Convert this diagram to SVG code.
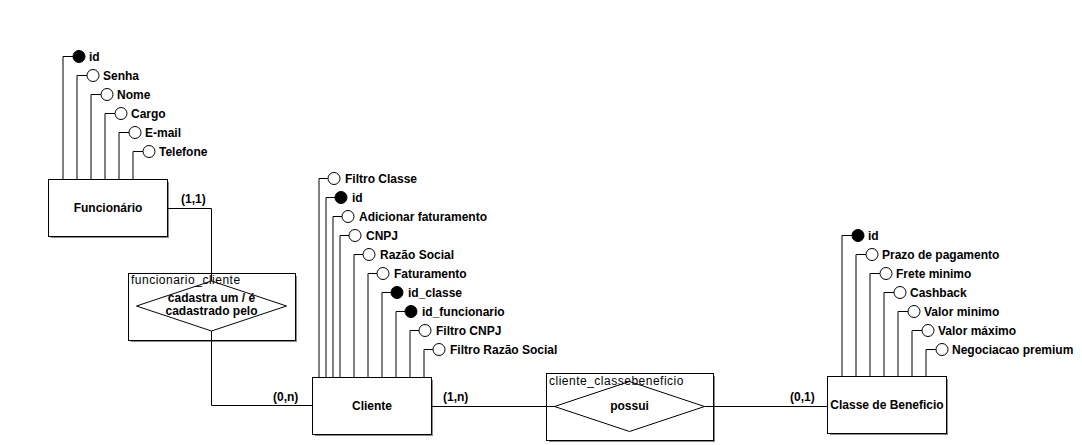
<svg xmlns="http://www.w3.org/2000/svg" width="1082" height="445" viewBox="0 0 1082 445">
<style>
.ent{fill:#fff;stroke:#000;stroke-width:1}
.sh{fill:#8c8c8c}
.ln{fill:none;stroke:#000;stroke-width:1}
.ao{fill:#fff;stroke:#000;stroke-width:1}
.af{fill:#000;stroke:#000;stroke-width:1}
.t{font-family:"Liberation Sans",Arial,sans-serif;font-size:12px;font-weight:bold;fill:#000}
.tc{font-family:"Liberation Sans",Arial,sans-serif;font-size:12px;font-weight:bold;fill:#000;text-anchor:middle}
.tr{font-family:"Liberation Sans",Arial,sans-serif;font-size:12px;letter-spacing:0.5px;fill:#000}
</style>
<rect width="1082" height="445" fill="#fff"/>

<g id="funcionario">
<path class="ln" d="M63,179V56.5H73 M77,179V75.5H87 M91,179V94.5H101 M105,179V113.5H115 M119,179V132.5H129 M133,179V151.5H143"/>
<circle class="af" cx="79" cy="56.5" r="6"/>
<circle class="ao" cx="93" cy="75.5" r="6"/>
<circle class="ao" cx="107" cy="94.5" r="6"/>
<circle class="ao" cx="121" cy="113.5" r="6"/>
<circle class="ao" cx="135" cy="132.5" r="6"/>
<circle class="ao" cx="149" cy="151.5" r="6"/>
<text class="t" x="89" y="60.5">id</text>
<text class="t" x="103" y="79.5">Senha</text>
<text class="t" x="117" y="98.5">Nome</text>
<text class="t" x="131" y="117.5">Cargo</text>
<text class="t" x="145" y="136.5">E-mail</text>
<text class="t" x="159" y="155.5">Telefone</text>
<rect class="sh" x="51" y="182" width="118" height="56"/>
<rect class="ent" x="48.5" y="179.5" width="119" height="57"/>
<text class="tc" x="108" y="212">Funcionário</text>
</g>

<g id="cliente">
<path class="ln" d="M319,377V178.5H328 M326,377V197.5H335 M333,377V216.5H342 M340,377V235.5H349 M354,377V254.5H363 M368,377V273.5H377 M382,377V292.5H391 M396,377V311.5H405 M410,377V330.5H419 M424,377V349.5H433"/>
<circle class="ao" cx="334" cy="178.5" r="6"/>
<circle class="af" cx="341" cy="197.5" r="6"/>
<circle class="ao" cx="348" cy="216.5" r="6"/>
<circle class="ao" cx="355" cy="235.5" r="6"/>
<circle class="ao" cx="369" cy="254.5" r="6"/>
<circle class="ao" cx="383" cy="273.5" r="6"/>
<circle class="af" cx="397" cy="292.5" r="6"/>
<circle class="af" cx="411" cy="311.5" r="6"/>
<circle class="ao" cx="425" cy="330.5" r="6"/>
<circle class="ao" cx="439" cy="349.5" r="6"/>
<text class="t" x="345" y="182.5">Filtro Classe</text>
<text class="t" x="352" y="201.5">id</text>
<text class="t" x="359" y="220.5">Adicionar faturamento</text>
<text class="t" x="366" y="239.5">CNPJ</text>
<text class="t" x="380" y="258.5">Razão Social</text>
<text class="t" x="394" y="277.5">Faturamento</text>
<text class="t" x="408" y="296.5">id_classe</text>
<text class="t" x="422" y="315.5">id_funcionario</text>
<text class="t" x="436" y="334.5">Filtro CNPJ</text>
<text class="t" x="450" y="353.5">Filtro Razão Social</text>
<rect class="sh" x="315" y="380" width="118" height="56"/>
<rect class="ent" x="312.5" y="377.5" width="119" height="57"/>
<text class="tc" x="372" y="410">Cliente</text>
</g>

<g id="classe_beneficio">
<path class="ln" d="M842,376V235.5H852 M856,376V254.5H866 M870,376V273.5H880 M884,376V292.5H894 M898,376V311.5H908 M912,376V330.5H922 M926,376V349.5H936"/>
<circle class="af" cx="858" cy="235.5" r="6"/>
<circle class="ao" cx="872" cy="254.5" r="6"/>
<circle class="ao" cx="886" cy="273.5" r="6"/>
<circle class="ao" cx="900" cy="292.5" r="6"/>
<circle class="ao" cx="914" cy="311.5" r="6"/>
<circle class="ao" cx="928" cy="330.5" r="6"/>
<circle class="ao" cx="942" cy="349.5" r="6"/>
<text class="t" x="868" y="239.5">id</text>
<text class="t" x="882" y="258.5">Prazo de pagamento</text>
<text class="t" x="896" y="277.5">Frete minimo</text>
<text class="t" x="910" y="296.5">Cashback</text>
<text class="t" x="924" y="315.5">Valor minimo</text>
<text class="t" x="938" y="334.5">Valor máximo</text>
<text class="t" x="952" y="353.5">Negociacao premium</text>
<rect class="sh" x="830" y="379" width="118" height="56"/>
<rect class="ent" x="827.5" y="376.5" width="119" height="57"/>
<text class="tc" x="887" y="409">Classe de Beneficio</text>
</g>

<g id="funcionario_cliente">
<rect class="sh" x="131" y="276" width="166" height="66"/>
<rect class="ent" x="128.5" y="273.5" width="167" height="67"/>
<text class="tr" x="131" y="284">funcionario_cliente</text>
<polygon class="ln" points="211.5,281 286.5,306 211.5,331 136.5,306"/>
<text class="tc" x="211.5" y="302">cadastra um / é</text>
<text class="tc" x="211.5" y="315">cadastrado pelo</text>
</g>

<g id="cliente_classebeneficio">
<rect class="sh" x="549" y="376" width="166" height="66"/>
<rect class="ent" x="546.5" y="373.5" width="167" height="67"/>
<text class="tr" x="549" y="385">cliente_classebeneficio</text>
<polygon class="ln" points="629.5,381.5 704.5,406.5 629.5,431.5 554.5,406.5"/>
<text class="tc" x="629.5" y="410">possui</text>
</g>

<g id="connectors">
<path class="ln" d="M167.5,208.5H211.5V281"/>
<path class="ln" d="M211.5,331V405.5H312.5"/>
<path class="ln" d="M431.5,406.5H554.5"/>
<path class="ln" d="M704.5,406.5H827.5"/>
<text class="t" x="181" y="203">(1,1)</text>
<text class="t" x="273" y="401">(0,n)</text>
<text class="t" x="443" y="401">(1,n)</text>
<text class="t" x="790" y="401">(0,1)</text>
</g>
</svg>
